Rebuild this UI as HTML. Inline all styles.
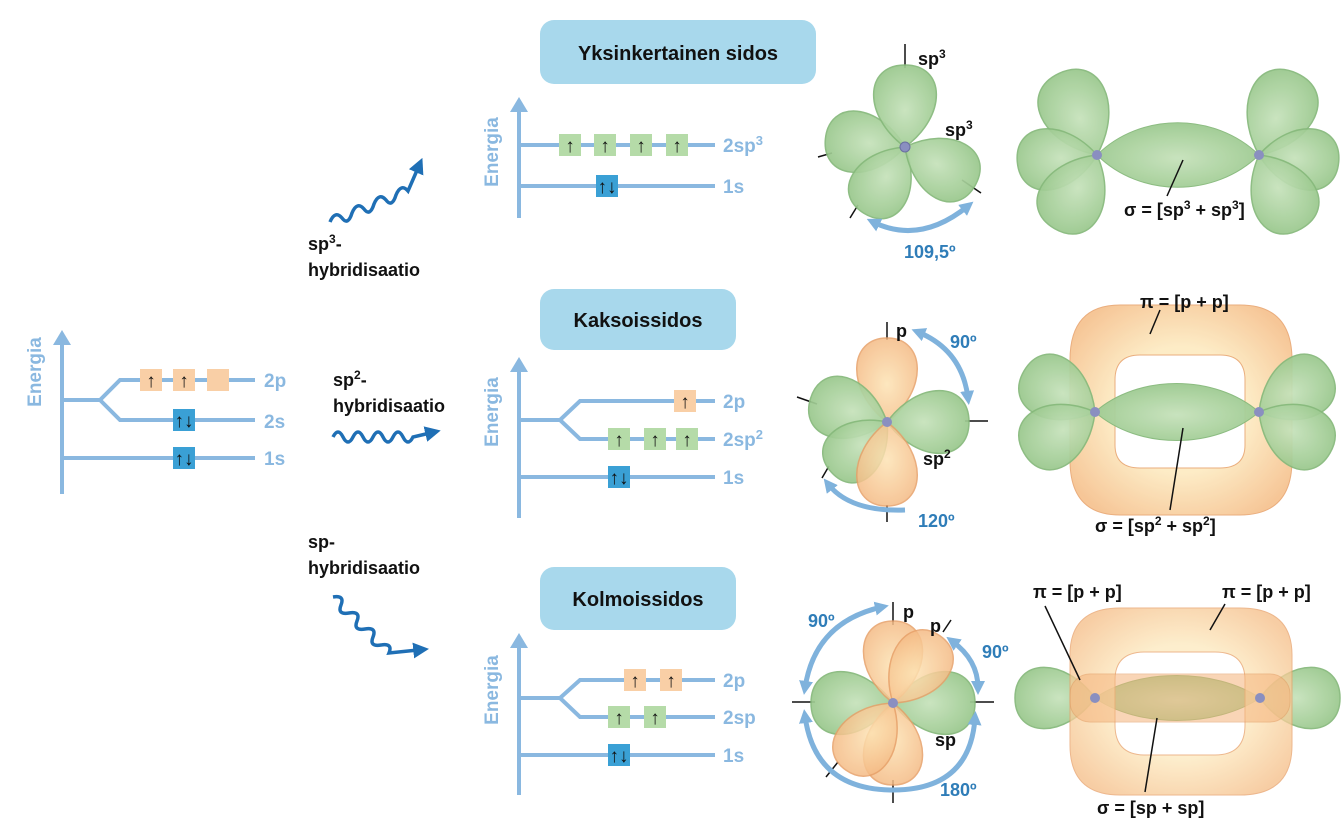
<!DOCTYPE html>
<html><head><meta charset="utf-8"><style>
html,body{margin:0;padding:0;background:#fff;}
svg{display:block;font-family:"Liberation Sans",sans-serif;}
.lb{fill:#8ab8e0;font-weight:bold;font-size:19px;}
.bk{fill:#111;font-weight:bold;font-size:18px;}
.dg{fill:#2f7db8;font-weight:bold;font-size:18px;}
.ln{stroke:#8ab8e0;stroke-width:4;fill:none;}
.ar{fill:#111;font-weight:bold;font-size:19px;}
</style></head><body>
<svg width="1344" height="827" viewBox="0 0 1344 827">
<defs>
<radialGradient id="gg" cx="0.5" cy="0.55" r="0.6"><stop offset="0" stop-color="#c6e2bb"/><stop offset="1" stop-color="#98c78b"/></radialGradient>
<radialGradient id="og" cx="0.5" cy="0.55" r="0.6"><stop offset="0" stop-color="#fde3b4"/><stop offset="1" stop-color="#f4b983"/></radialGradient>
<radialGradient id="rg" cx="0.5" cy="0.5" r="0.6"><stop offset="0.5" stop-color="#fde9bd"/><stop offset="1" stop-color="#f5bd86"/></radialGradient>
<path id="gl" d="M0,0 C-52,-38 -50,-100 0,-100 C50,-100 52,-38 0,0Z" fill="url(#gg)" stroke="#86b97b" stroke-width="1.5" vector-effect="non-scaling-stroke" opacity="0.93"/>
<path id="ol" d="M0,0 C-50,-38 -46,-100 0,-100 C46,-100 50,-38 0,0Z" fill="url(#og)" stroke="#e7a068" stroke-width="1.5" vector-effect="non-scaling-stroke" opacity="0.85"/>
<marker id="ah" viewBox="0 0 10 10" refX="5" refY="5" markerWidth="2.8" markerHeight="2.8" orient="auto-start-reverse"><path d="M0,0L10,5L0,10Z" fill="#7fb2dc"/></marker>
<marker id="wh" viewBox="0 0 10 10" refX="3" refY="5" markerWidth="4.5" markerHeight="4.5" orient="auto"><path d="M0,0L10,5L0,10Z" fill="#1f6fb5"/></marker>
</defs>

<!-- LEFT DIAGRAM -->
<path class="ln" d="M62,494V340"/><path d="M53,345L62,330L71,345Z" fill="#8ab8e0"/>
<text class="lb" transform="translate(41,372) rotate(-90)" text-anchor="middle">Energia</text>
<path class="ln" d="M62,400H100L120,380H255M100,400L120,420H255M62,458H255"/>
<rect x="140" y="369" width="22" height="22" fill="#f9cfa6"/><rect x="173" y="369" width="22" height="22" fill="#f9cfa6"/><rect x="207" y="369" width="22" height="22" fill="#f9cfa6"/>
<text class="ar" x="151" y="387" text-anchor="middle">↑</text><text class="ar" x="184" y="387" text-anchor="middle">↑</text>
<rect x="173" y="409" width="22" height="22" fill="#3aa0d5"/><text class="ar" x="184" y="427" text-anchor="middle">↑↓</text>
<rect x="173" y="447" width="22" height="22" fill="#3aa0d5"/><text class="ar" x="184" y="465" text-anchor="middle">↑↓</text>
<text class="lb" x="264" y="387">2p</text><text class="lb" x="264" y="428">2s</text><text class="lb" x="264" y="465">1s</text>

<!-- wavy arrows -->
<path d="M330,222 q5,-12 12,-4 q6,8 10,-5 q5,-12 12,-4 q6,8 10,-5 q5,-12 12,-4 q6,8 10,-5 q5,-12 12,-4 L418,168" fill="none" stroke="#1f6fb5" stroke-width="3.5" marker-end="url(#wh)"/>
<path d="M333,437 q5,-10 10,0 q5,10 10,0 q5,-10 10,0 q5,10 10,0 q5,-10 10,0 q5,10 10,0 q5,-10 10,0 q5,10 10,0 L430,433" fill="none" stroke="#1f6fb5" stroke-width="3.5" marker-end="url(#wh)"/>
<path d="M333,597 q12,-2 8,8 q-4,10 8,8 q12,-2 8,8 q-4,10 8,8 q12,-2 8,8 q-4,10 8,8 q12,-2 8,8 L418,650" fill="none" stroke="#1f6fb5" stroke-width="3.5" marker-end="url(#wh)"/>
<text class="bk" x="308" y="250">sp<tspan font-size="12" dy="-7">3</tspan><tspan dy="7">-</tspan></text>
<text class="bk" x="308" y="276">hybridisaatio</text>
<text class="bk" x="333" y="386">sp<tspan font-size="12" dy="-7">2</tspan><tspan dy="7">-</tspan></text>
<text class="bk" x="333" y="412">hybridisaatio</text>
<text class="bk" x="308" y="548">sp-</text>
<text class="bk" x="308" y="574">hybridisaatio</text>

<!-- TOP -->
<rect x="540" y="20" width="276" height="64" rx="14" fill="#a8d8ec"/>
<text x="678" y="60" text-anchor="middle" font-weight="bold" font-size="20" fill="#111">Yksinkertainen sidos</text>
<path class="ln" d="M519,218V108"/><path d="M510,112L519,97L528,112Z" fill="#8ab8e0"/>
<text class="lb" transform="translate(498,152) rotate(-90)" text-anchor="middle">Energia</text>
<path class="ln" d="M519,145H715M519,186H715"/>
<g fill="#b5dba8"><rect x="559" y="134" width="22" height="22"/><rect x="594" y="134" width="22" height="22"/><rect x="630" y="134" width="22" height="22"/><rect x="666" y="134" width="22" height="22"/></g>
<text class="ar" x="570" y="152" text-anchor="middle">↑</text><text class="ar" x="605" y="152" text-anchor="middle">↑</text><text class="ar" x="641" y="152" text-anchor="middle">↑</text><text class="ar" x="677" y="152" text-anchor="middle">↑</text>
<rect x="596" y="175" width="22" height="22" fill="#3aa0d5"/><text class="ar" x="607" y="193" text-anchor="middle">↑↓</text>
<text class="lb" x="723" y="152">2sp<tspan font-size="13" dy="-7">3</tspan></text><text class="lb" x="723" y="193">1s</text>

<!-- MIDDLE -->
<rect x="540" y="289" width="196" height="61" rx="14" fill="#a8d8ec"/>
<text x="638" y="327" text-anchor="middle" font-weight="bold" font-size="20" fill="#111">Kaksoissidos</text>
<path class="ln" d="M519,518V370"/><path d="M510,372L519,357L528,372Z" fill="#8ab8e0"/>
<text class="lb" transform="translate(498,412) rotate(-90)" text-anchor="middle">Energia</text>
<path class="ln" d="M519,420H560L580,401H715M560,420L580,439H715M519,477H715"/>
<rect x="674" y="390" width="22" height="22" fill="#f9cfa6"/><text class="ar" x="685" y="408" text-anchor="middle">↑</text>
<g fill="#b5dba8"><rect x="608" y="428" width="22" height="22"/><rect x="644" y="428" width="22" height="22"/><rect x="676" y="428" width="22" height="22"/></g>
<text class="ar" x="619" y="446" text-anchor="middle">↑</text><text class="ar" x="655" y="446" text-anchor="middle">↑</text><text class="ar" x="687" y="446" text-anchor="middle">↑</text>
<rect x="608" y="466" width="22" height="22" fill="#3aa0d5"/><text class="ar" x="619" y="484" text-anchor="middle">↑↓</text>
<text class="lb" x="723" y="408">2p</text><text class="lb" x="723" y="446">2sp<tspan font-size="13" dy="-7">2</tspan></text><text class="lb" x="723" y="484">1s</text>

<!-- BOTTOM -->
<rect x="540" y="567" width="196" height="63" rx="14" fill="#a8d8ec"/>
<text x="638" y="606" text-anchor="middle" font-weight="bold" font-size="20" fill="#111">Kolmoissidos</text>
<path class="ln" d="M519,795V645"/><path d="M510,648L519,633L528,648Z" fill="#8ab8e0"/>
<text class="lb" transform="translate(498,690) rotate(-90)" text-anchor="middle">Energia</text>
<path class="ln" d="M519,698H560L580,680H715M560,698L580,717H715M519,755H715"/>
<rect x="624" y="669" width="22" height="22" fill="#f9cfa6"/><rect x="660" y="669" width="22" height="22" fill="#f9cfa6"/>
<text class="ar" x="635" y="687" text-anchor="middle">↑</text><text class="ar" x="671" y="687" text-anchor="middle">↑</text>
<rect x="608" y="706" width="22" height="22" fill="#b5dba8"/><rect x="644" y="706" width="22" height="22" fill="#b5dba8"/>
<text class="ar" x="619" y="724" text-anchor="middle">↑</text><text class="ar" x="655" y="724" text-anchor="middle">↑</text>
<rect x="608" y="744" width="22" height="22" fill="#3aa0d5"/><text class="ar" x="619" y="762" text-anchor="middle">↑↓</text>
<text class="lb" x="723" y="687">2p</text><text class="lb" x="723" y="724">2sp</text><text class="lb" x="723" y="762">1s</text>

<!-- sp3 orbital -->
<g stroke="#111" stroke-width="1.5"><line x1="905" y1="44" x2="905" y2="68"/><line x1="818" y1="157" x2="832" y2="153"/><line x1="962" y1="180" x2="981" y2="193"/><line x1="850" y1="218" x2="858" y2="205"/></g>
<use href="#gl" transform="translate(905,147) rotate(276) scale(0.8)"/>
<use href="#gl" transform="translate(905,147) rotate(212) scale(0.78)"/>
<use href="#gl" transform="translate(905,147) rotate(0) scale(0.82)"/>
<use href="#gl" transform="translate(905,147) rotate(118) scale(0.8)"/>
<circle cx="905" cy="147" r="5" fill="#8a8fc0" stroke="#6a6fa0"/>
<text class="bk" x="918" y="65">sp<tspan font-size="12" dy="-7">3</tspan></text>
<text class="bk" x="945" y="136">sp<tspan font-size="12" dy="-7">3</tspan></text>
<path d="M873,222 Q920,245 968,206" fill="none" stroke="#7fb2dc" stroke-width="5" marker-start="url(#ah)" marker-end="url(#ah)"/>
<text class="dg" x="904" y="258">109,5º</text>

<!-- sp3 bond -->
<path d="M1097,155 C1140,112 1215,112 1259,155 C1215,198 1140,198 1097,155Z" fill="url(#gg)" stroke="#86b97b" opacity="0.95"/>
<use href="#gl" transform="translate(1097,155) rotate(-25) scale(0.9)"/>
<use href="#gl" transform="translate(1097,155) rotate(-95) scale(0.8)"/>
<use href="#gl" transform="translate(1097,155) rotate(-150) scale(0.85)"/>
<use href="#gl" transform="translate(1259,155) rotate(25) scale(0.9)"/>
<use href="#gl" transform="translate(1259,155) rotate(95) scale(0.8)"/>
<use href="#gl" transform="translate(1259,155) rotate(150) scale(0.85)"/>
<circle cx="1097" cy="155" r="5" fill="#8a8fc0"/><circle cx="1259" cy="155" r="5" fill="#8a8fc0"/>
<line x1="1183" y1="160" x2="1167" y2="196" stroke="#111" stroke-width="1.5"/>
<text class="bk" x="1124" y="216">σ = [sp<tspan font-size="12" dy="-7">3</tspan><tspan dy="7"> + sp</tspan><tspan font-size="12" dy="-7">3</tspan><tspan dy="7">]</tspan></text>

<!-- sp2 orbital -->
<g stroke="#111" stroke-width="1.5"><line x1="887" y1="322" x2="887" y2="340"/><line x1="887" y1="505" x2="887" y2="522"/><line x1="797" y1="397" x2="817" y2="404"/><line x1="965" y1="421" x2="988" y2="421"/><line x1="822" y1="478" x2="829" y2="466"/></g>
<use href="#ol" transform="translate(887,422) rotate(0) scale(0.84)"/>
<use href="#gl" transform="translate(887,422) rotate(287) scale(0.8)"/>
<use href="#gl" transform="translate(887,422) rotate(228) scale(0.75)"/>
<use href="#gl" transform="translate(887,422) rotate(90) scale(0.82)"/>
<use href="#ol" transform="translate(887,422) rotate(180) scale(0.84)"/>
<circle cx="887" cy="422" r="5" fill="#8a8fc0"/>
<text class="bk" x="896" y="337">p</text>
<text class="bk" x="923" y="465">sp<tspan font-size="12" dy="-7">2</tspan></text>
<path d="M918,332 Q962,350 968,398" fill="none" stroke="#7fb2dc" stroke-width="5" marker-start="url(#ah)" marker-end="url(#ah)"/>
<text class="dg" x="950" y="348">90º</text>
<path d="M828,484 Q850,512 905,510" fill="none" stroke="#7fb2dc" stroke-width="5" marker-start="url(#ah)"/>
<text class="dg" x="918" y="527">120º</text>

<!-- sp2 bond -->
<path fill-rule="evenodd" d="M1120,305 H1240 Q1292,305 1292,360 V460 Q1292,515 1240,515 H1120 Q1070,515 1070,460 V360 Q1070,305 1120,305Z M1140,355 H1220 Q1245,355 1245,380 V445 Q1245,468 1220,468 H1140 Q1115,468 1115,445 V380 Q1115,355 1140,355Z" fill="url(#rg)" stroke="#e7a068" opacity="0.85"/>
<path d="M1095,412 C1138,374 1215,374 1259,412 C1215,450 1138,450 1095,412Z" fill="url(#gg)" stroke="#86b97b" opacity="0.95"/>
<use href="#gl" transform="translate(1095,412) rotate(-60) scale(0.82)"/>
<use href="#gl" transform="translate(1095,412) rotate(-120) scale(0.82)"/>
<use href="#gl" transform="translate(1259,412) rotate(60) scale(0.82)"/>
<use href="#gl" transform="translate(1259,412) rotate(120) scale(0.82)"/>
<circle cx="1095" cy="412" r="5" fill="#8a8fc0"/><circle cx="1259" cy="412" r="5" fill="#8a8fc0"/>
<line x1="1160" y1="310" x2="1150" y2="334" stroke="#111" stroke-width="1.5"/>
<text class="bk" x="1140" y="308">π = [p + p]</text>
<line x1="1183" y1="428" x2="1170" y2="510" stroke="#111" stroke-width="1.5"/>
<text class="bk" x="1095" y="532">σ = [sp<tspan font-size="12" dy="-7">2</tspan><tspan dy="7"> + sp</tspan><tspan font-size="12" dy="-7">2</tspan><tspan dy="7">]</tspan></text>

<!-- sp orbital -->
<g stroke="#111" stroke-width="1.5"><line x1="893" y1="602" x2="893" y2="625"/><line x1="893" y1="780" x2="893" y2="803"/><line x1="792" y1="702" x2="815" y2="702"/><line x1="970" y1="702" x2="994" y2="702"/><line x1="943" y1="632" x2="951" y2="620"/><line x1="826" y1="777" x2="838" y2="762"/></g>
<use href="#gl" transform="translate(893,703) rotate(270) scale(0.82)"/>
<use href="#gl" transform="translate(893,703) rotate(90) scale(0.82)"/>
<use href="#ol" transform="translate(893,703) rotate(0) scale(0.82)"/>
<use href="#ol" transform="translate(893,703) rotate(180) scale(0.82)"/>
<use href="#ol" transform="translate(893,703) rotate(35) scale(0.82)"/>
<use href="#ol" transform="translate(893,703) rotate(215) scale(0.82)"/>
<circle cx="893" cy="703" r="5" fill="#8a8fc0"/>
<text class="bk" x="903" y="618">p</text><text class="bk" x="930" y="632">p</text><text class="bk" x="935" y="746">sp</text>
<path d="M805,688 Q815,622 882,607" fill="none" stroke="#7fb2dc" stroke-width="5" marker-start="url(#ah)" marker-end="url(#ah)"/>
<text class="dg" x="808" y="627">90º</text>
<path d="M952,641 Q978,660 978,688" fill="none" stroke="#7fb2dc" stroke-width="5" marker-start="url(#ah)" marker-end="url(#ah)"/>
<text class="dg" x="982" y="658">90º</text>
<path d="M805,716 Q815,790 893,790 Q970,790 975,718" fill="none" stroke="#7fb2dc" stroke-width="5" marker-start="url(#ah)" marker-end="url(#ah)"/>
<text class="dg" x="940" y="796">180º</text>

<!-- sp bond -->
<path d="M1095,698 C1138,668 1215,668 1260,698 C1215,728 1138,728 1095,698Z" fill="url(#gg)" stroke="#86b97b"/>
<use href="#gl" transform="translate(1095,698) rotate(-90) scale(0.8)"/>
<use href="#gl" transform="translate(1260,698) rotate(90) scale(0.8)"/>
<path fill-rule="evenodd" d="M1120,608 H1240 Q1292,608 1292,655 V745 Q1292,795 1240,795 H1120 Q1070,795 1070,745 V655 Q1070,608 1120,608Z M1145,652 H1215 Q1245,652 1245,680 V725 Q1245,755 1215,755 H1145 Q1115,755 1115,725 V680 Q1115,652 1145,652Z" fill="url(#rg)" stroke="#e7a068" opacity="0.75"/>
<rect x="1070" y="674" width="220" height="48" rx="20" fill="#f5b47c" stroke="#e39a60" opacity="0.55"/>
<circle cx="1095" cy="698" r="5" fill="#8a8fc0"/><circle cx="1260" cy="698" r="5" fill="#8a8fc0"/>
<line x1="1045" y1="606" x2="1080" y2="680" stroke="#111" stroke-width="1.5"/>
<text class="bk" x="1033" y="598">π = [p + p]</text>
<line x1="1225" y1="604" x2="1210" y2="630" stroke="#111" stroke-width="1.5"/>
<text class="bk" x="1222" y="598">π = [p + p]</text>
<line x1="1157" y1="718" x2="1145" y2="792" stroke="#111" stroke-width="1.5"/>
<text class="bk" x="1097" y="814">σ = [sp + sp]</text>
</svg>
</body></html>
